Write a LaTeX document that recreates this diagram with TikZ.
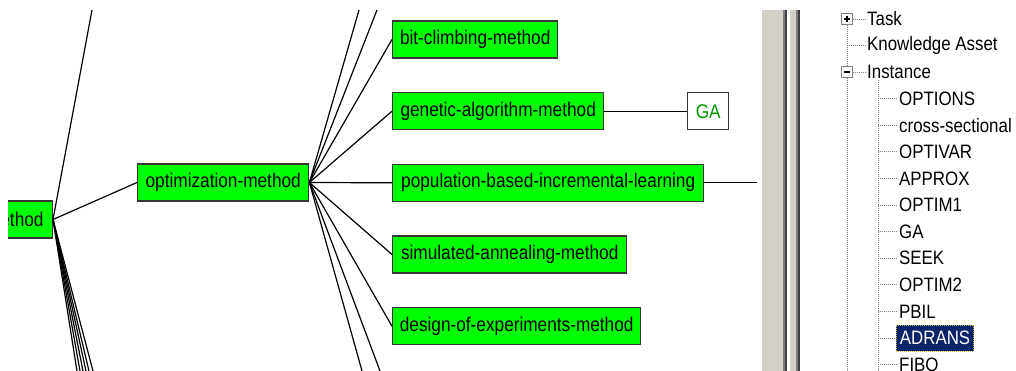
\documentclass[tikz,border=0pt]{standalone}
\usepackage{fontspec}
\setmainfont{Liberation Sans}
\newfontfamily\gfont[FakeStretch=0.87]{Liberation Sans}
\definecolor{boxgreen}{RGB}{0,255,0}
\definecolor{boxedge}{RGB}{55,55,55}
\definecolor{gatext}{RGB}{0,150,0}
\definecolor{panelgray}{RGB}{212,208,200}
\definecolor{midgray}{RGB}{128,128,128}
\definecolor{darkgray}{RGB}{64,64,64}
\definecolor{navyhl}{RGB}{10,36,106}
\definecolor{dotgray}{RGB}{128,128,128}
\definecolor{focusyellow}{RGB}{200,180,60}
\tikzset{
  mbox/.style={draw=boxedge, fill=boxgreen, line width=1.4pt, minimum height=37pt,
    inner sep=0pt, anchor=west, font=\gfont\fontsize{19.8}{22}\selectfont},
  instbox/.style={draw=boxedge, fill=white, line width=1.4pt, minimum height=37pt,
    inner sep=0pt, anchor=west, text=gatext, font=\gfont\fontsize{19.8}{22}\selectfont},
  conn/.style={line width=1.2pt, black},
  tdot/.style={dotgray, line width=0.8pt, dash pattern=on 1pt off 1pt},
  titem/.style={anchor=west, inner sep=1pt, font=\gfont\fontsize{19.4}{22}\selectfont},
  tbox/.style={draw=dotgray, fill=white, line width=0.8pt, minimum size=10.5pt, inner sep=0pt}
}
\begin{document}
\begin{tikzpicture}[x=1pt,y=-1pt]
\useasboundingbox (0,0) rectangle (1016,371);
\fill[white] (0,0) rectangle (1016,371);
% ---------------- graph area ----------------
\begin{scope}
\clip (8,10) rectangle (762,371);
\node[mbox, minimum width=75pt, anchor=east] (meth) at (53,219.5) {method};
\node[mbox, minimum width=171pt] (opt) at (137,182.5) {optimization-method};
\node[mbox, minimum width=165pt] (bit) at (392,39.5) {bit-climbing-method};
\node[mbox, minimum width=211pt] (gen) at (392,111.2) {genetic-algorithm-method};
\node[instbox, minimum width=41pt] (ga) at (687,111.2) {GA};
\node[mbox, minimum width=311pt] (pop) at (392,182.8) {population-based-incremental-learning};
\node[mbox, minimum width=234pt] (sim) at (392,254.5) {simulated-annealing-method};
\node[mbox, minimum width=248pt] (doe) at (392,326.2) {design-of-experiments-method};
% off-view ends
\coordinate (mup) at (92,10);
\coordinate (md1) at (77,371);
\coordinate (md2) at (80,371);
\coordinate (md3) at (83,371);
\coordinate (md4) at (86,371);
\coordinate (md5) at (89,371);
\coordinate (md6) at (93,371);
\coordinate (ou1) at (359,10);
\coordinate (ou2) at (377,10);
\coordinate (od1) at (362,371);
\coordinate (od2) at (380,371);
\coordinate (popend) at (757,182.8);
% connectors
\draw[conn] (meth.east) -- (opt.west);
\draw[conn] (meth.east) -- (mup);
\foreach \k in {1,...,6} {\draw[conn] (meth.east) -- (md\k);}
\draw[conn] (opt.east) -- (ou1);
\draw[conn] (opt.east) -- (ou2);
\draw[conn] (opt.east) -- (od1);
\draw[conn] (opt.east) -- (od2);
\draw[conn] (opt.east) -- (bit.west);
\draw[conn] (opt.east) -- (gen.west);
\draw[conn] (opt.east) -- (pop.west);
\draw[conn] (opt.east) -- (sim.west);
\draw[conn] (opt.east) -- (doe.west);
\draw[conn] (gen.east) -- (ga.west);
\draw[conn] (pop.east) -- (popend);
\end{scope}
% ---------------- splitter ----------------
\fill[panelgray] (762,10) rectangle (783,371);
\fill[midgray] (783,10) rectangle (785,371);
\fill[darkgray] (785,10) rectangle (787,371);
\fill[white] (787,10) rectangle (790,371);
\fill[panelgray] (790,10) rectangle (796,371);
\fill[midgray] (796,10) rectangle (798,371);
\fill[darkgray] (798,10) rectangle (800,371);
% ---------------- tree ----------------
\begin{scope}
\clip (800,10) rectangle (1016,371);
\node[tbox] (plus) at (847,19) {};
\draw[black, line width=1.2pt] ([xshift=-3pt]plus.center) -- ([xshift=3pt]plus.center);
\draw[black, line width=1.2pt] ([yshift=-3pt]plus.center) -- ([yshift=3pt]plus.center);
\node[tbox] (minus) at (847,72) {};
\draw[black, line width=1.2pt] ([xshift=-3pt]minus.center) -- ([xshift=3pt]minus.center);
\node[titem] (task) at (866,19) {Task};
\node[titem] (ka) at (866,45.5) {Knowledge Asset};
\node[titem] (inst) at (866,72) {Instance};
\coordinate (kajoint) at (847,45.5);
\coordinate (rootbot) at (847,371);
\draw[tdot] (plus.east) -- (task.west);
\draw[tdot] (minus.east) -- (inst.west);
\draw[tdot] (kajoint) -- (ka.west);
\draw[tdot] (plus.south) -- (minus.north);
\draw[tdot] (minus.south) -- (rootbot);
\coordinate (ctop) at (878,80);
\coordinate (cbot) at (878,371);
\draw[tdot] (ctop) -- (cbot);
\foreach \t [count=\i] in {OPTIONS,cross-sectional,OPTIVAR,APPROX,OPTIM1,GA,SEEK,OPTIM2,PBIL} {
  \node[titem] (c\i) at (898,{98.6+26.6*(\i-1)}) {\t};
  \draw[tdot] (ctop |- c\i.west) -- (c\i.west);
}
\node[titem, fill=navyhl, text=white, draw=focusyellow, dash pattern=on 1pt off 1pt,
  line width=0.8pt, inner xsep=3.5pt, minimum height=26pt] (c10) at (896,338) {ADRANS};
\draw[tdot] (ctop |- c10.west) -- (c10.west);
\node[titem] (c11) at (898,364.6) {FIBO};
\draw[tdot] (ctop |- c11.west) -- (c11.west);
\end{scope}
\end{tikzpicture}
\end{document}
